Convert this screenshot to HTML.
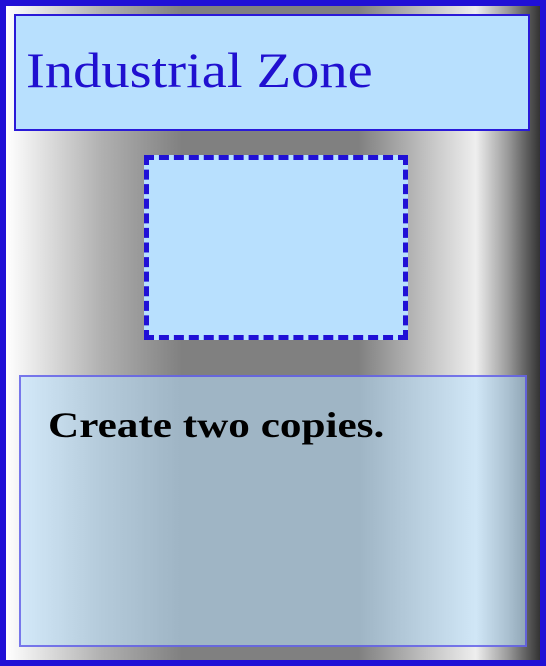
<!DOCTYPE html>
<html><head><meta charset="utf-8"><style>
html,body{margin:0;padding:0}
body{width:546px;height:666px;overflow:hidden;position:relative}
#frame{position:absolute;left:0;top:0;width:534px;height:654px;border:6px solid #2010d6;
background:linear-gradient(to right,#ffffff 0%,#b0b0b0 18%,#808080 33%,#808080 66%,#c8c8c8 80%,#eeeeee 88%,#9a9a9a 94%,#333333 100%);}
#header{position:absolute;left:14px;top:14px;width:512px;height:113px;border:2px solid #2a1ad8;background:#b8e0fe;}
#title{position:absolute;left:10px;top:29px;margin:0;font:normal 50px "Liberation Serif",serif;color:#2010d0;white-space:nowrap;line-height:1;transform:scaleX(1.13);transform-origin:0 0}
#dash{position:absolute;left:144px;top:155px;width:254px;height:175px;border:5px dashed #2010d6;background:#b8e0fe;}
#panel{position:absolute;left:19px;top:375px;width:504px;height:268px;border:2px solid rgba(80,70,230,0.7);background:rgba(184,224,254,0.55);}
#msg{position:absolute;left:27px;top:30px;margin:0;font:bold 36px "Liberation Serif",serif;color:#000;white-space:nowrap;line-height:1;transform:scaleX(1.2);transform-origin:0 0}
</style></head><body>
<div id="frame"></div>
<div id="header"><h1 id="title">Industrial Zone</h1></div>
<div id="dash"></div>
<div id="panel"><p id="msg">Create two copies.</p></div>
</body></html>
